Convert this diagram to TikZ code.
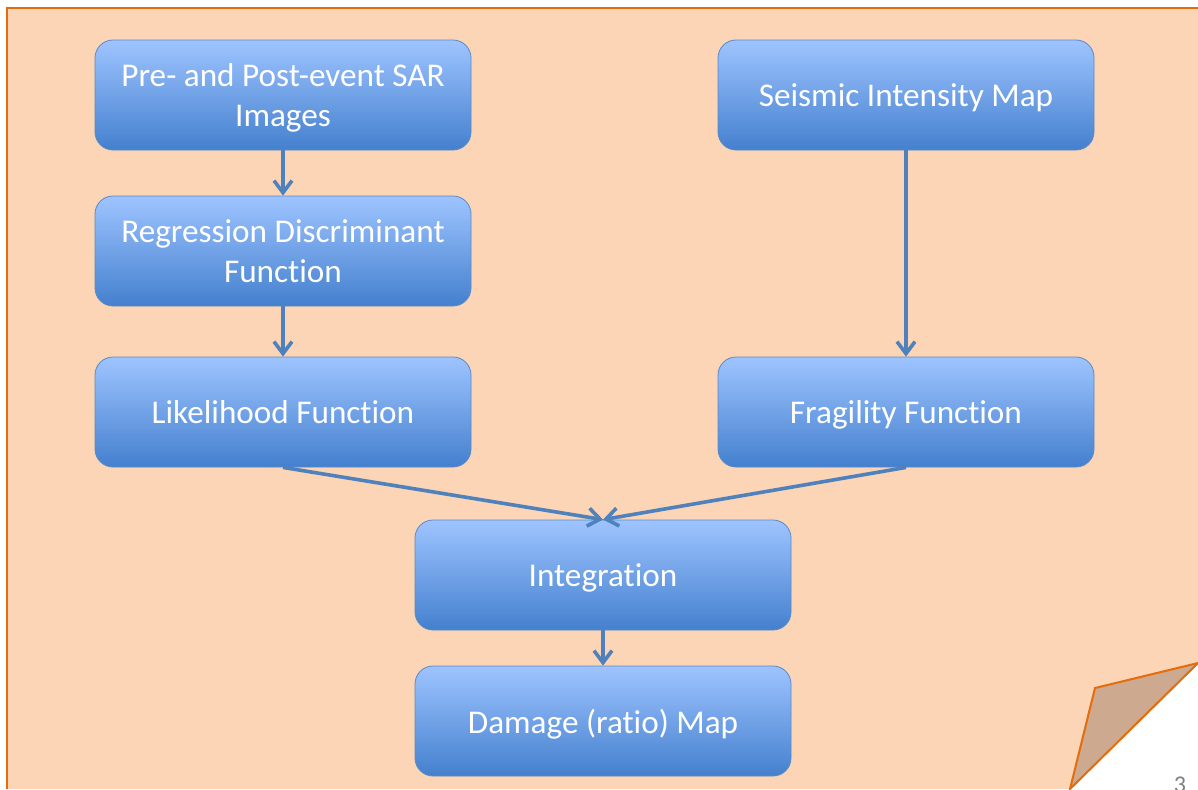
\documentclass[tikz,border=0pt]{standalone}
\usepackage{fontspec}
\setmainfont{Carlito}[Ligatures=NoCommon]
\usepackage{xcolor}
\usetikzlibrary{arrows.meta}

\definecolor{peach}{HTML}{FBD5B5}
\definecolor{pageline}{HTML}{E46C0A}
\definecolor{foldfill}{HTML}{CDA98F}
\definecolor{boxtop}{HTML}{9EC4FF}
\definecolor{boxbot}{HTML}{4480CE}
\definecolor{boxedge}{HTML}{5A8AC6}
\definecolor{arrowblue}{HTML}{4F81BD}

\begin{document}
\begin{tikzpicture}[x=0.5pt,y=-0.5pt,
  stepbox/.style={rounded corners=9pt,draw=boxedge,top color=boxtop,bottom color=boxbot,
    minimum width=188pt,minimum height=55pt,inner sep=0pt,text=white,align=center,
    text depth=0pt,font=\fontsize{16.6}{20}\selectfont},
  flow/.style={-{Straight Barb[length=6pt,width=9pt]},line width=1.8pt,draw=arrowblue}]
  \useasboundingbox (0,0) rectangle (1198,789);
  % page
  \fill[white] (0,0) rectangle (1198,789);
  \fill[peach] (7,8) -- (1198,8) -- (1198,663) -- (1070,789) -- (7,789) -- cycle;
  \draw[pageline,line width=1pt] (7,789) -- (7,8) -- (1198,8);
  \filldraw[fill=foldfill,draw=pageline,line width=1pt] (1070,789) -- (1095,688) -- (1198,663) -- cycle;
  \node[text=gray,font=\fontsize{12}{12}\selectfont] (pgnum) at (1180,785) {3};
  % left column
  \node[stepbox] (sar) at (283,95) {Pre- and Post-event SAR\\Images};
  \node[stepbox] (regr) at (283,251) {Regression Discriminant\\Function};
  \node[stepbox] (like) at (283,412) {Likelihood Function};
  % right column
  \node[stepbox] (seis) at (906,95) {Seismic Intensity Map};
  \node[stepbox] (frag) at (906,412) {Fragility Function};
  % bottom
  \node[stepbox] (integ) at (603,575) {Integration};
  \node[stepbox] (dmg) at (603,721) {Damage (ratio) Map};
  % arrows
  \draw[flow] (sar) -- (regr);
  \draw[flow] (regr) -- (like);
  \draw[flow] (seis) -- (frag);
  \draw[flow] (like.south) -- (integ.north);
  \draw[flow] (frag.south) -- (integ.north);
  \draw[flow] (integ) -- (dmg);
\end{tikzpicture}
\end{document}
